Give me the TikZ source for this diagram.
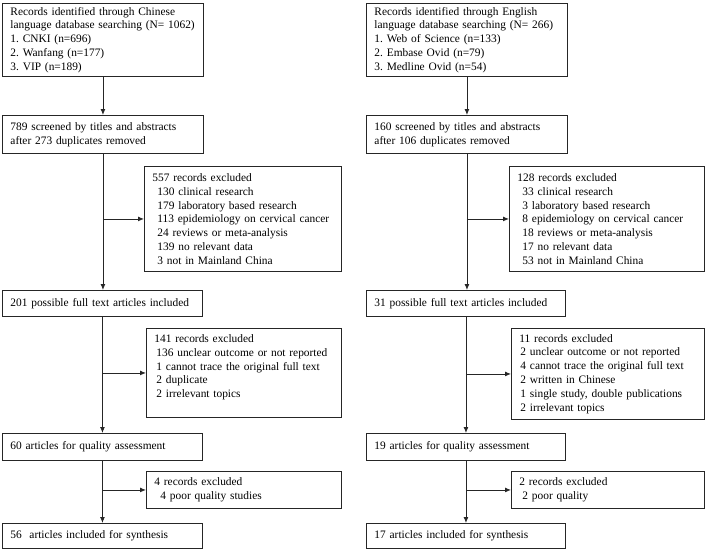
\documentclass[tikz,border=0pt]{standalone}
\usepackage{fontspec}
\setmainfont{Liberation Serif}
\usetikzlibrary{arrows.meta}
\frenchspacing

\begin{document}
\begin{tikzpicture}[x=1pt, y=-1pt, >={Latex[length=6pt,width=5pt]}, line width=0.9pt]

   \tikzset{box/.style 2 args={draw=black!85, anchor=north west, align=left,
      inner xsep=8pt, inner ysep=3pt, text width=#1pt, minimum height=#2pt,
      font=\fontsize{11.4}{13.8}\selectfont}}
   \useasboundingbox (0,0) rectangle (709,551);

   % Chinese databases
   \node[box={185}{73}] (a1) at (2,3) {Records identified through Chinese\\language database searching (N= 1062)\\1. CNKI (n=696)\\2. Wanfang (n=177)\\3. VIP (n=189)};
   \node[box={185}{38}] (a2) at (2,115) {789 screened by titles and abstracts\\after 273 duplicates removed};
   \node[box={181}{105}] (x1) at (144,166) {557 records excluded\\\hspace*{5pt}130 clinical research\\\hspace*{5pt}179 laboratory based research\\\hspace*{5pt}113 epidemiology on cervical cancer\\\hspace*{5pt}24 reviews or meta-analysis\\\hspace*{5pt}139 no relevant data\\\hspace*{5pt}3 not in Mainland China};
   \node[box={184}{26}] (a3) at (2,290) {201 possible full text articles included};
   \node[box={179}{89}] (x2) at (146,328) {141 records excluded\\\hspace*{2pt}136 unclear outcome or not reported\\\hspace*{2pt}1 cannot trace the original full text\\\hspace*{2pt}2 duplicate\\\hspace*{2pt}2 irrelevant topics\\\mbox{}};
   \node[box={184}{27}] (a4) at (2,433) {60 articles for quality assessment};
   \node[box={179}{37}] (x3) at (146,471) {4 records excluded\\\hspace*{6pt}4 poor quality studies};
   \node[box={184}{25}] (a5) at (2,523) {56~ articles included for synthesis};

   % English databases
   \node[box={185}{73}] (b1) at (366,3) {Records identified through English\\language database searching (N= 266)\\1. Web of Science (n=133)\\2. Embase Ovid (n=79)\\3. Medline Ovid (n=54)};
   \node[box={185}{38}] (b2) at (366,115) {160 screened by titles and abstracts\\after 106 duplicates removed};
   \node[box={179}{105}] (y1) at (509,166) {128 records excluded\\\hspace*{5pt}33 clinical research\\\hspace*{5pt}3 laboratory based research\\\hspace*{5pt}8 epidemiology on cervical cancer\\\hspace*{5pt}18 reviews or meta-analysis\\\hspace*{5pt}17 no relevant data\\\hspace*{5pt}53 not in Mainland China};
   \node[box={183}{26}] (b3) at (366,290) {31 possible full text articles included};
   \node[box={177}{91}] (y2) at (511,328) {11 records excluded\\\hspace*{1pt}2 unclear outcome or not reported\\\hspace*{1pt}4 cannot trace the original full text\\\hspace*{1pt}2 written in Chinese\\\hspace*{1pt}1 single study, double publications\\\hspace*{1pt}2 irrelevant topics};
   \node[box={183}{27}] (b4) at (366,433) {19 articles for quality assessment};
   \node[box={177}{37}] (y3) at (511,471) {2 records excluded\\\hspace*{3pt}2 poor quality};
   \node[box={183}{25}] (b5) at (366,523) {17 articles included for synthesis};

   \begin{scope}[draw=black!85]
   \draw[->] (a1) -- (a2);
   \draw[->] (a2.south) -- (a2.south |- a3.north);
   \draw[->] (a3.south) -- (a3.south |- a4.north);
   \draw[->] (a4.south) -- (a4.south |- a5.north);
   \draw[->] (a2.south |- x1.west) -- (x1.west);
   \draw[->] (a3.south |- x2.west) -- (x2.west);
   \draw[->] (a4.south |- x3.west) -- (x3.west);

   \draw[->] (b1) -- (b2);
   \draw[->] (b2.south) -- (b2.south |- b3.north);
   \draw[->] (b3.south) -- (b3.south |- b4.north);
   \draw[->] (b4.south) -- (b4.south |- b5.north);
   \draw[->] (b2.south |- y1.west) -- (y1.west);
   \draw[->] (b3.south |- y2.west) -- (y2.west);
   \draw[->] (b4.south |- y3.west) -- (y3.west);
   \end{scope}
\end{tikzpicture}
\end{document}
